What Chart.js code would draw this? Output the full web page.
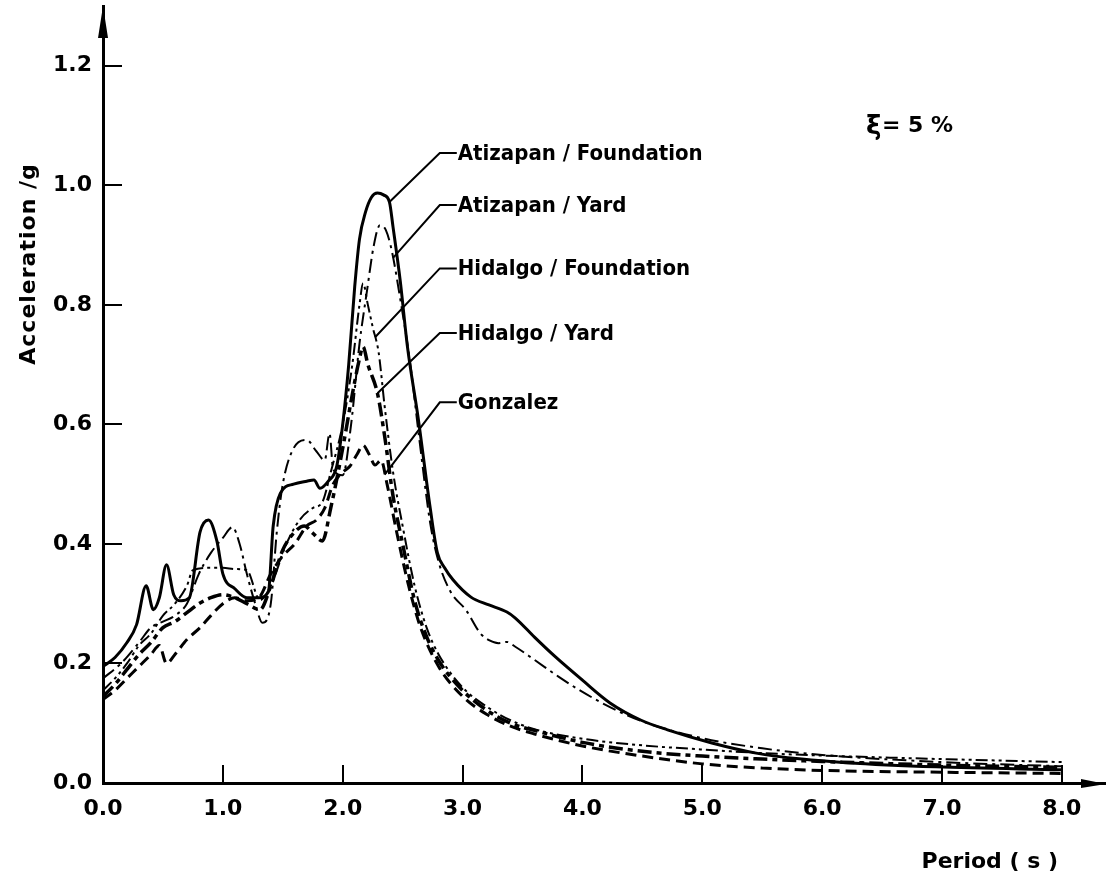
<!DOCTYPE html>
<html>
<head>
<meta charset="utf-8">
<title>Response spectra</title>
<script src="https://cdn.jsdelivr.net/npm/chart.js@4.4.0/dist/chart.umd.min.js"></script>
<style>
  html, body { margin: 0; padding: 0; background: #fff; }
  canvas { display: block; }
</style>
</head>
<body>
<canvas id="spectra" width="1107" height="880"></canvas>
<script>
// Acceleration response spectra, 5 % damping. Period in s, acceleration in g.
const periodsAtizapanFoundation = [0,0.1,0.2,0.28,0.36,0.42,0.47,0.53,0.59,0.65,0.72,0.81,0.88,0.95,1.0,1.1,1.2,1.3,1.38,1.42,1.48,1.59,1.7,1.76,1.81,1.88,1.95,2.0,2.05,2.1,2.14,2.19,2.24,2.29,2.34,2.39,2.42,2.48,2.54,2.63,2.73,2.79,2.85,2.92,3.07,3.22,3.37,3.44,3.6,3.78,4.0,4.23,4.49,4.71,5.08,5.45,5.83,6.2,6.95,8.0];
const accelAtizapanFoundation   = [0.195,0.21,0.235,0.265,0.33,0.29,0.31,0.365,0.315,0.305,0.31,0.42,0.44,0.405,0.35,0.325,0.31,0.31,0.32,0.43,0.485,0.5,0.505,0.507,0.493,0.505,0.53,0.6,0.7,0.83,0.91,0.955,0.98,0.987,0.984,0.972,0.93,0.84,0.73,0.61,0.46,0.385,0.36,0.34,0.311,0.298,0.286,0.276,0.244,0.21,0.172,0.134,0.105,0.089,0.067,0.05,0.04,0.034,0.027,0.022];

const periodsAtizapanYard = [0,0.15,0.3,0.4,0.5,0.6,0.7,0.8,0.9,1.0,1.08,1.14,1.2,1.27,1.33,1.4,1.45,1.5,1.59,1.7,1.78,1.85,1.89,1.92,2.0,2.07,2.14,2.2,2.26,2.31,2.36,2.41,2.48,2.56,2.64,2.73,2.8,2.9,3.03,3.15,3.22,3.3,3.37,3.44,3.6,3.8,3.97,4.23,4.5,5.0,5.5,6.0,7.0,8.0];
const accelAtizapanYard   = [0.175,0.2,0.235,0.26,0.27,0.28,0.3,0.35,0.385,0.41,0.428,0.4,0.35,0.3,0.268,0.3,0.42,0.5,0.56,0.574,0.555,0.54,0.585,0.525,0.515,0.6,0.735,0.82,0.9,0.933,0.925,0.89,0.81,0.707,0.574,0.435,0.37,0.32,0.289,0.25,0.239,0.234,0.236,0.228,0.206,0.178,0.156,0.127,0.103,0.075,0.058,0.047,0.035,0.028];

const periodsHidalgoFoundation = [0,0.1,0.2,0.3,0.4,0.5,0.6,0.7,0.75,0.9,1.0,1.1,1.2,1.31,1.4,1.53,1.64,1.75,1.83,1.9,2.0,2.08,2.14,2.17,2.21,2.25,2.3,2.35,2.42,2.5,2.6,2.7,2.8,3.0,3.2,3.4,3.6,4.0,4.5,5.0,5.5,6.0,7.0,8.0];
const accelHidalgoFoundation   = [0.155,0.175,0.2,0.23,0.25,0.28,0.3,0.33,0.356,0.36,0.36,0.358,0.356,0.306,0.33,0.4,0.44,0.46,0.47,0.52,0.6,0.7,0.8,0.836,0.8,0.763,0.72,0.63,0.52,0.43,0.33,0.26,0.215,0.16,0.128,0.105,0.09,0.074,0.063,0.056,0.05,0.046,0.04,0.035];

const periodsHidalgoYard = [0,0.1,0.2,0.3,0.4,0.5,0.6,0.7,0.8,0.9,1.0,1.1,1.2,1.31,1.4,1.5,1.6,1.68,1.75,1.83,1.9,2.0,2.08,2.14,2.17,2.21,2.29,2.35,2.42,2.5,2.6,2.7,2.8,3.0,3.2,3.4,3.6,4.0,4.5,5.0,5.5,6.0,7.0,8.0];
const accelHidalgoYard   = [0.145,0.165,0.19,0.215,0.235,0.26,0.27,0.285,0.3,0.31,0.315,0.31,0.3,0.29,0.33,0.39,0.42,0.43,0.418,0.405,0.46,0.56,0.65,0.71,0.73,0.7,0.652,0.58,0.48,0.4,0.305,0.245,0.205,0.155,0.122,0.1,0.088,0.068,0.053,0.045,0.04,0.036,0.03,0.026];

const periodsGonzalez = [0,0.1,0.2,0.3,0.4,0.47,0.53,0.6,0.7,0.81,0.9,1.0,1.1,1.2,1.3,1.4,1.5,1.6,1.7,1.78,1.85,1.92,2.0,2.06,2.12,2.17,2.22,2.27,2.32,2.37,2.45,2.55,2.65,2.8,3.0,3.2,3.4,3.6,4.0,4.5,5.0,5.5,6.0,7.0,8.0];
const accelGonzalez   = [0.14,0.155,0.175,0.195,0.215,0.23,0.2,0.215,0.24,0.26,0.28,0.3,0.31,0.305,0.31,0.35,0.38,0.4,0.43,0.44,0.46,0.5,0.52,0.53,0.55,0.565,0.55,0.532,0.54,0.5,0.42,0.33,0.26,0.195,0.145,0.115,0.095,0.082,0.062,0.045,0.032,0.025,0.021,0.018,0.016];

const xTickValues = [0, 1, 2, 3, 4, 5, 6, 7, 8];
const yTickValues = [0, 0.2, 0.4, 0.6, 0.8, 1.0, 1.2];

// Curve labels: text, level of the label (g), period where the leader meets the curve
const seriesNames   = ['Atizapan / Foundation', 'Atizapan / Yard', 'Hidalgo / Foundation', 'Hidalgo / Yard', 'Gonzalez'];
const labelLevels   = [1.054, 0.967, 0.861, 0.753, 0.637];
const leaderPeriods = [2.39, 2.42, 2.27, 2.29, 2.35];
const leaderElbowPeriod = 2.81;

const seriesPeriods = [periodsAtizapanFoundation, periodsAtizapanYard, periodsHidalgoFoundation, periodsHidalgoYard, periodsGonzalez];
const seriesAccels  = [accelAtizapanFoundation, accelAtizapanYard, accelHidalgoFoundation, accelHidalgoYard, accelGonzalez];

const lineStyles = [
  { borderWidth: 3,   borderDash: [] },                    // solid
  { borderWidth: 2,   borderDash: [14, 5, 3, 5] },         // dash-dot
  { borderWidth: 2,   borderDash: [12, 4, 3, 4, 3, 4] },   // dash-dot-dot
  { borderWidth: 3.5, borderDash: [14, 5, 5, 5] },         // heavy dash-dot
  { borderWidth: 3,   borderDash: [11, 6] }                // dashed
];

function toPoints(periods, accels) {
  return periods.map((t, i) => ({ x: t, y: accels[i] }));
}

function accelAt(periods, accels, t) {
  for (let i = 1; i < periods.length; i++) {
    if (t <= periods[i]) {
      const f = (t - periods[i - 1]) / (periods[i] - periods[i - 1]);
      return accels[i - 1] + f * (accels[i] - accels[i - 1]);
    }
  }
  return accels[accels.length - 1];
}

// keep the plot area flush with the layout padding (no extra room for edge labels)
function noEdgePadding(s) {
  s.paddingTop = 0;
  s.paddingBottom = 0;
  s.paddingLeft = 0;
  s.paddingRight = 0;
}

const TICK_FONT = { family: "'DejaVu Sans', sans-serif", size: 22, weight: 'bold' };

const overlay = {
  id: 'overlay',
  afterDraw(chart) {
    const { ctx, chartArea: a } = chart;
    const xs = chart.scales.x, ys = chart.scales.y;
    ctx.save();
    ctx.strokeStyle = '#000';
    ctx.fillStyle = '#000';
    ctx.setLineDash([]);

    // inward tick marks
    ctx.lineWidth = 2;
    xTickValues.forEach(v => {
      if (v === 0) return;
      const px = Math.round(xs.getPixelForValue(v));
      ctx.beginPath();
      ctx.moveTo(px, a.bottom);
      ctx.lineTo(px, a.bottom - 18);
      ctx.stroke();
    });
    yTickValues.forEach(v => {
      if (v === 0) return;
      const py = Math.round(ys.getPixelForValue(v));
      ctx.beginPath();
      ctx.moveTo(a.left, py);
      ctx.lineTo(a.left + 19, py);
      ctx.stroke();
    });

    // axis arrowheads
    ctx.beginPath();
    ctx.moveTo(a.left, a.top);
    ctx.lineTo(a.left - 5, a.top + 32);
    ctx.lineTo(a.left + 5, a.top + 32);
    ctx.closePath();
    ctx.fill();
    ctx.beginPath();
    ctx.moveTo(a.right + 1, a.bottom + 1);
    ctx.lineTo(a.right - 24, a.bottom - 4);
    ctx.lineTo(a.right - 24, a.bottom + 5);
    ctx.closePath();
    ctx.fill();

    // curve labels with leader lines
    ctx.lineWidth = 2;
    ctx.font = "bold 22px 'DejaVu Sans Condensed', 'DejaVu Sans', sans-serif";
    ctx.textAlign = 'left';
    ctx.textBaseline = 'middle';
    const xe = xs.getPixelForValue(leaderElbowPeriod);
    seriesNames.forEach((name, i) => {
      const t = leaderPeriods[i];
      const px = xs.getPixelForValue(t);
      const py = ys.getPixelForValue(accelAt(seriesPeriods[i], seriesAccels[i], t));
      const ly = ys.getPixelForValue(labelLevels[i]);
      ctx.beginPath();
      ctx.moveTo(px, py);
      ctx.lineTo(xe, ly);
      ctx.lineTo(xe + 17, ly);
      ctx.stroke();
      ctx.fillText(name, xe + 18, ly + 1);
    });

    // damping note
    ctx.font = "bold 26px 'DejaVu Sans', sans-serif";
    ctx.fillText('\u03BE', 866, 127);
    ctx.font = "bold 22px 'DejaVu Sans', sans-serif";
    ctx.fillText('= 5 %', 882, 126);

    // axis titles
    ctx.font = "bold 22px 'DejaVu Sans', sans-serif";
    ctx.textAlign = 'right';
    ctx.fillText('Period ( s )', 1058, 862);
    ctx.translate(29, 264);
    ctx.rotate(-Math.PI / 2);
    ctx.textAlign = 'center';
    ctx.letterSpacing = '1px';
    ctx.fillText('Acceleration /g', 0, 0);
    ctx.restore();
  }
};

new Chart(document.getElementById('spectra'), {
  type: 'line',
  data: {
    datasets: seriesNames.map((name, i) => ({
      label: name,
      data: toPoints(seriesPeriods[i], seriesAccels[i]),
      borderColor: '#000',
      borderWidth: lineStyles[i].borderWidth,
      borderDash: lineStyles[i].borderDash,
      borderCapStyle: 'butt',
      pointRadius: 0,
      fill: false,
      cubicInterpolationMode: 'monotone'
    }))
  },
  options: {
    responsive: false,
    animation: false,
    devicePixelRatio: 1,
    layout: { padding: { top: 6, right: 2, left: 0, bottom: 0 } },
    plugins: { legend: { display: false }, tooltip: { enabled: false } },
    scales: {
      x: {
        type: 'linear',
        min: 0,
        max: 8.36,
        afterBuildTicks: s => { s.ticks = xTickValues.map(v => ({ value: v })); },
        afterFit: s => { s.height = 97; noEdgePadding(s); },
        grid: { display: false, drawTicks: false },
        border: { display: true, color: '#000', width: 3 },
        ticks: {
          color: '#000', font: TICK_FONT, padding: 13,
          maxRotation: 0, autoSkip: false,
          callback: v => Number(v).toFixed(1)
        }
      },
      y: {
        type: 'linear',
        min: 0,
        max: 1.3,
        afterBuildTicks: s => { s.ticks = yTickValues.map(v => ({ value: v })); },
        afterFit: s => { s.width = 103; noEdgePadding(s); },
        grid: { display: false, drawTicks: false },
        border: { display: true, color: '#000', width: 3 },
        ticks: {
          color: '#000', font: TICK_FONT, padding: 11,
          autoSkip: false,
          callback: v => Number(v).toFixed(1)
        }
      }
    }
  },
  plugins: [overlay]
});
</script>
</body>
</html>
